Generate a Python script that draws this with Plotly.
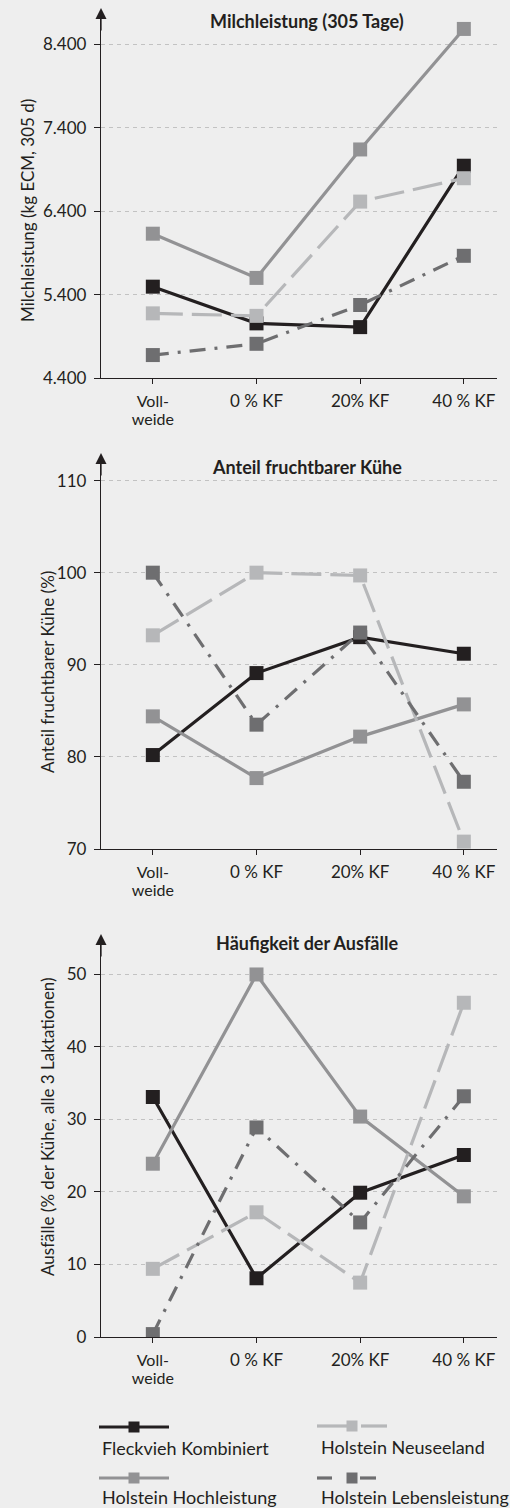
import plotly.graph_objects as go

# ---------------- data ----------------
categories = ["Voll-<br>weide", "0 % KF", "20% KF", "40 % KF"]
series_names = ["Fleckvieh Kombiniert", "Holstein Hochleistung",
                "Holstein Neuseeland", "Holstein Lebensleistung"]

milch_fleckvieh = [5495, 5055, 5010, 6945]
milch_hochleistung = [6130, 5600, 7140, 8585]
milch_neuseeland = [5175, 5145, 6515, 6795]
milch_lebensleistung = [4675, 4810, 5275, 5865]

fert_fleckvieh = [80.2, 89.1, 93.0, 91.2]
fert_hochleistung = [84.4, 77.7, 82.2, 85.7]
fert_neuseeland = [93.2, 100.0, 99.7, 70.8]
fert_lebensleistung = [100.0, 83.5, 93.5, 77.3]

ausf_fleckvieh = [33.1, 8.1, 19.9, 25.1]
ausf_hochleistung = [23.9, 50.0, 30.4, 19.4]
ausf_neuseeland = [9.4, 17.2, 7.5, 46.1]
ausf_lebensleistung = [0.4, 28.9, 15.8, 33.2]

milch_ticks = [4400, 5400, 6400, 7400, 8400]
fert_ticks = [70, 80, 90, 100, 110]
ausf_ticks = [0, 10, 20, 30, 40, 50]

panel_titles = ["Milchleistung (305 Tage)", "Anteil fruchtbarer Kühe", "Häufigkeit der Ausfälle"]
axis_titles = ["Milchleistung (kg ECM, 305 d)", "Anteil fruchtbarer Kühe (%)",
               "Ausfälle (% der Kühe, alle 3 Laktationen)"]

# ---------------- styling ----------------
W, H = 510, 1508          # reference coordinate system
FIG_H = 1518              # figure height (compensates for the screenshot's vertical fit)
FONT = "Lato"
TXT = "#231f20"
BG = "#eeeeee"
styles = [
    dict(color="#231f20", width=3.2, dash="solid"),
    dict(color="#929294", width=3.2, dash="solid"),
    dict(color="#b6b7b9", width=3.2, dash="30px,9px"),
    dict(color="#6e6e70", width=3.2, dash="16px,9px,3px,9px"),
]


def px(x):
    return x / W


def py(y):
    return 1 - y / H


# tick labels: glyph size set per label, line spacing driven by the smaller base size (tight like the reference)
def tick_label(t):
    size = 16 if "<br>" in t else 17
    open_tag = '<span style="font-size:%spx">' % size
    return open_tag + t.replace("<br>", "</span><br>" + open_tag) + "</span>"


tick_texts = [tick_label(t) for t in categories]

xs = list(range(len(categories)))
panels = [
    ([milch_fleckvieh, milch_hochleistung, milch_neuseeland, milch_lebensleistung],
     milch_ticks, [4400, 8788], (12, 378)),
    ([fert_fleckvieh, fert_hochleistung, fert_neuseeland, fert_lebensleistung],
     fert_ticks, [70, 112.56], (457, 849)),
    ([ausf_fleckvieh, ausf_hochleistung, ausf_neuseeland, ausf_lebensleistung],
     ausf_ticks, [0, 55.03], (938, 1337)),
]

fig = go.Figure()
layout = dict(
    width=W, height=FIG_H, margin=dict(l=0, r=0, t=0, b=0),
    paper_bgcolor=BG, plot_bgcolor=BG, showlegend=False,
    separators=",.",
    font=dict(family=FONT, size=17, color=TXT),
)

annotations = []
for i, (data, ticks, yr, (top, bottom)) in enumerate(panels):
    n = "" if i == 0 else str(i + 1)
    for j, vals in enumerate(data):
        st = styles[j]
        fig.add_trace(go.Scatter(
            x=xs, y=vals, mode="lines+markers", name=series_names[j],
            xaxis="x" + n, yaxis="y" + n,
            line=dict(color=st["color"], width=st["width"], dash=st["dash"]),
            marker=dict(symbol="square", size=14, color=st["color"], line=dict(width=0)),
        ))
    layout["xaxis" + n] = dict(
        domain=[px(101), px(497)], range=[-0.5, 3.32], anchor="y" + n,
        tickvals=xs, ticktext=tick_texts, ticks="outside", ticklen=5,
        tickcolor=TXT, tickwidth=1.2, showline=True, linecolor=TXT, linewidth=1.3,
        showgrid=False, zeroline=False, tickfont=dict(size=14, color=TXT),
        ticklabelstandoff=6,
    )
    layout["yaxis" + n] = dict(
        domain=[py(bottom), py(top)], range=yr, anchor="x" + n,
        tickvals=ticks, tickformat=",d", ticks="outside", ticklen=6,
        tickcolor=TXT, tickwidth=1.2, showline=True, linecolor=TXT, linewidth=1.3,
        showgrid=True, gridcolor="#c2c2c2", griddash="4px,4px", gridwidth=1,
        zeroline=False, tickfont=dict(size=17, color=TXT), ticklabelstandoff=4,
    )
    # arrow on y axis
    annotations.append(dict(
        xref="x" + n + " domain", yref="paper", x=0, y=py(top - 4),
        ax=0, ay=24, axref="pixel", ayref="pixel", showarrow=True, text="",
        arrowhead=2, arrowsize=1.7, arrowwidth=1.3, arrowcolor=TXT, standoff=0,
    ))

title_pos = [(307, 21), (307, 467), (307, 943)]
ytitle_pos = [(27, 211), (47, 672), (47, 1127)]
for t, (x, y) in zip(panel_titles, title_pos):
    annotations.append(dict(xref="paper", yref="paper", x=px(x), y=py(y), text="<b>" + t + "</b>",
                            showarrow=False, xanchor="center", yanchor="middle",
                            font=dict(size=18, color=TXT, family=FONT)))
for t, (x, y) in zip(axis_titles, ytitle_pos):
    annotations.append(dict(xref="paper", yref="paper", x=px(x), y=py(y), text=t, textangle=-90,
                            showarrow=False, xanchor="center", yanchor="middle",
                            font=dict(size=17, color=TXT, family=FONT)))

# ---------------- legend (drawn manually) ----------------
shapes = []


def seg(x0, x1, y, color, w=3.2):
    shapes.append(dict(type="line", xref="paper", yref="paper", x0=px(x0), x1=px(x1),
                       y0=py(y), y1=py(y), line=dict(color=color, width=w)))


def sq(xc, yc, color, s=11):
    shapes.append(dict(type="rect", xref="paper", yref="paper", x0=px(xc - s / 2), x1=px(xc + s / 2),
                       y0=py(yc + s / 2), y1=py(yc - s / 2), fillcolor=color, line=dict(width=0)))


c = [s["color"] for s in styles]
seg(99, 169, 1427, c[0]); sq(134, 1427, c[0])
seg(99, 169, 1478, c[1]); sq(134, 1478, c[1])
seg(317, 347, 1426, c[2]); seg(361, 387, 1426, c[2]); sq(352, 1426, c[2])
seg(317, 332, 1478, c[3]); seg(360, 376, 1478, c[3]); sq(352, 1478, c[3])

legend_pos = [(100, 1448), (100, 1497), (319, 1447), (319, 1497)]
for name, (x, y) in zip(series_names, legend_pos):
    annotations.append(dict(xref="paper", yref="paper", x=px(x), y=py(y), text=name,
                            showarrow=False, xanchor="left", yanchor="middle",
                            font=dict(size=18, color=TXT, family=FONT)))

layout["annotations"] = annotations
layout["shapes"] = shapes
fig.update_layout(**layout)
fig.write_html(
    "out.html",
    config={"displayModeBar": False},
    post_script="document.body.style.margin='0';document.body.style.overflow='hidden';",
)
